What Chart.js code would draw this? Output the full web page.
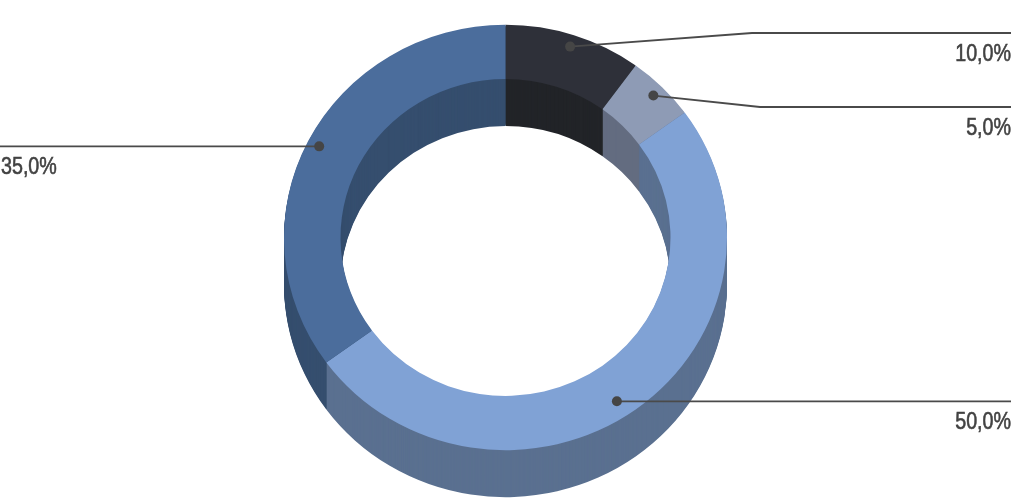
<!DOCTYPE html>
<html>
<head>
<meta charset="utf-8">
<script src="https://cdn.jsdelivr.net/npm/chart.js@4.4.1/dist/chart.umd.min.js"></script>
<style>
  html, body { margin: 0; padding: 0; background: #ffffff; }
  #wrap { width: 1016px; height: 499px; position: relative; }
</style>
</head>
<body>
<div id="wrap"><canvas id="c" width="1016" height="499"></canvas></div>
<script>
// ---- data ----
const categories = ['Part 1', 'Part 2', 'Part 3', 'Part 4'];
const values = [10, 5, 50, 35];
const topColors = ['#2e3039', '#8e9bb5', '#80a2d5', '#4b6d9c'];
const sideColors = ['#222428', '#636c80', '#5a7090', '#354e6e'];

// ---- layout (not data) ----
const SY = 0.96;      // vertical squash of the top face
const DEPTH = 47;     // extrusion depth in px
const TEXT_SX = 0.82; // horizontal condensing of label text
const labelLayout = [
  { elbow: [752, 33], endX: 1011, align: 'right', rf: 0.944, da: 0 },
  { elbow: [760, 107], endX: 1011, align: 'right', rf: 0.944, da: 0 },
  { elbow: null, endX: 1011, align: 'right', rf: 0.92, da: 0.05 },
  { elbow: null, endX: 0, align: 'left', rf: 0.944, da: 0 }
];

function fmt(v) {
  const total = values.reduce((a, b) => a + b, 0);
  return (v / total * 100).toFixed(1).replace('.', ',') + '%';
}

const ring3d = {
  id: 'ring3d',
  beforeDatasetsDraw(chart) {
    const ctx = chart.ctx;
    const meta = chart.getDatasetMeta(0);
    const first = meta.data[0];
    const cx = first.x, cy = first.y;
    for (let d = DEPTH; d >= 1; d--) {
      ctx.save();
      ctx.translate(cx, cy + d);
      ctx.scale(1, SY);
      ctx.translate(-cx, -cy);
      meta.data.forEach((el, i) => {
        const p = el.getProps(['x', 'y', 'startAngle', 'endAngle', 'innerRadius', 'outerRadius'], true);
        ctx.beginPath();
        ctx.arc(p.x, p.y, p.outerRadius, p.startAngle, p.endAngle);
        ctx.arc(p.x, p.y, p.innerRadius, p.endAngle, p.startAngle, true);
        ctx.closePath();
        ctx.fillStyle = sideColors[i];
        ctx.fill();
      });
      ctx.restore();
    }
    ctx.save();
    ctx.translate(cx, cy);
    ctx.scale(1, SY);
    ctx.translate(-cx, -cy);
  },
  afterDatasetsDraw(chart) {
    chart.ctx.restore();
  },
  afterDraw(chart) {
    const ctx = chart.ctx;
    const meta = chart.getDatasetMeta(0);
    meta.data.forEach((el, i) => {
      const p = el.getProps(['x', 'y', 'startAngle', 'endAngle', 'innerRadius', 'outerRadius'], true);
      const L = labelLayout[i];
      const mid = (p.startAngle + p.endAngle) / 2 + L.da;
      const r = p.outerRadius * L.rf;
      const dx = p.x + Math.cos(mid) * r;
      const dy = p.y + Math.sin(mid) * r * SY;
      const lineY = L.elbow ? L.elbow[1] : dy;
      ctx.save();
      ctx.strokeStyle = '#4a4a4a';
      ctx.lineWidth = 1.8;
      ctx.beginPath();
      ctx.moveTo(dx, dy);
      if (L.elbow) ctx.lineTo(L.elbow[0], L.elbow[1]);
      ctx.lineTo(L.endX, lineY);
      ctx.stroke();
      ctx.fillStyle = '#454545';
      ctx.beginPath();
      ctx.arc(dx, dy, 5, 0, Math.PI * 2);
      ctx.fill();
      ctx.restore();

      ctx.save();
      const tx = L.endX + (L.align === 'left' ? 1 : 0);
      ctx.translate(tx, lineY + 28);
      ctx.scale(TEXT_SX, 1);
      ctx.fillStyle = '#424242';
      ctx.strokeStyle = '#424242';
      ctx.lineWidth = 0.6;
      ctx.font = '24px "Liberation Sans", "DejaVu Sans", sans-serif';
      ctx.textAlign = L.align;
      ctx.textBaseline = 'alphabetic';
      ctx.fillText(fmt(values[i]), 0, 0);
      ctx.strokeText(fmt(values[i]), 0, 0);
      ctx.restore();
    });
  }
};

new Chart(document.getElementById('c'), {
  type: 'doughnut',
  data: {
    labels: categories,
    datasets: [{
      data: values,
      backgroundColor: topColors,
      borderWidth: 0,
      hoverOffset: 0
    }]
  },
  options: {
    responsive: false,
    animation: false,
    devicePixelRatio: 1,
    cutout: '74.5%',
    layout: { padding: { left: 284, right: 289, top: 16, bottom: 40 } },
    plugins: {
      legend: { display: false },
      tooltip: { enabled: false }
    }
  },
  plugins: [ring3d]
});
</script>
</body>
</html>
